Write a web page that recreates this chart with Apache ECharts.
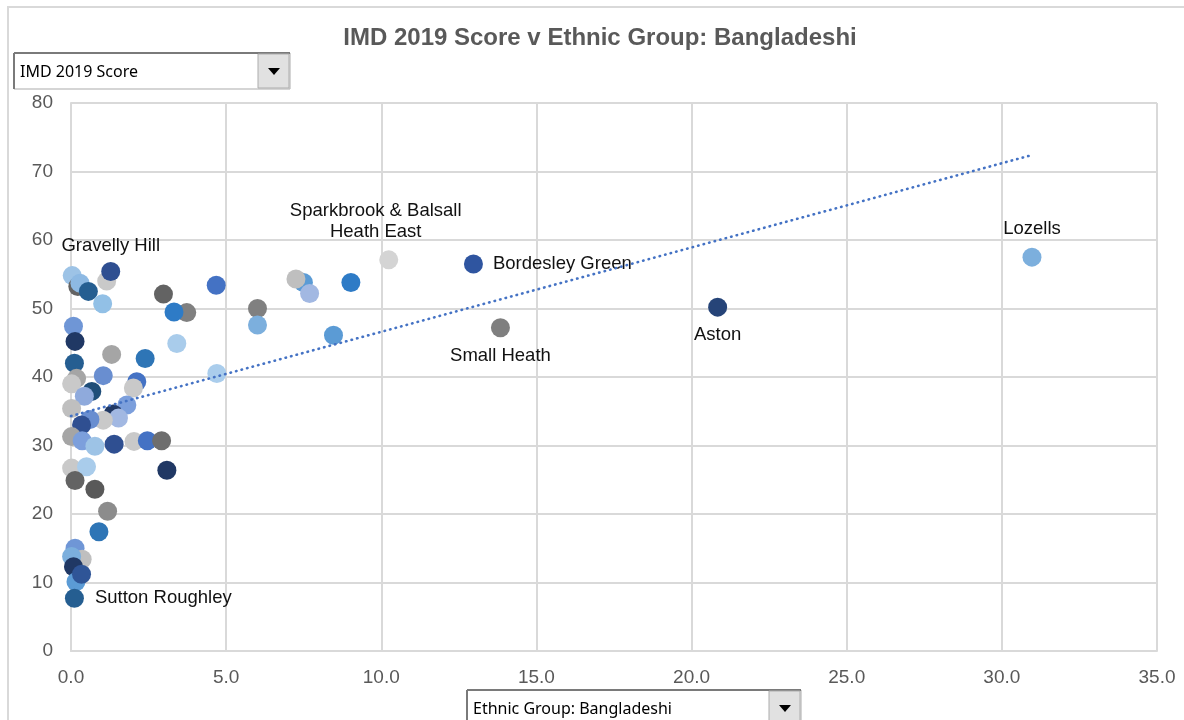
<!DOCTYPE html>
<html><head><meta charset="utf-8">
<script src="https://cdn.jsdelivr.net/npm/echarts@6/dist/echarts.min.js"></script>
<style>html,body{margin:0;padding:0;background:#fff}#c{width:1184px;height:720px}</style>
</head><body><div id="c"></div>
<script>
// ---- data ----
const wardNames = ['', '', '', '', '', 'Gravelly Hill', '', '', '', '', '', '', '', '', '', '', '', '', '', '', '', '', '', '', '', '', '', '', '', '', '', '', '', '', '', '', '', '', '', '', '', '', '', '', '', '', '', '', '', '', '', '', 'Sutton Roughley', '', '', '', '', '', '', '', 'Sparkbrook & Balsall\nHeath East', 'Bordesley Green', 'Small Heath', 'Aston', 'Lozells'];
const bangladeshiPct = [0.04, 0.22, 0.29, 0.56, 1.15, 1.28, 1.02, 2.98, 4.68, 3.73, 3.32, 3.41, 0.08, 0.13, 0.11, 1.31, 2.39, 0.18, 0.02, 1.04, 2.12, 2.01, 4.70, 0.67, 0.43, 0.02, 1.80, 1.36, 1.53, 1.04, 0.61, 0.34, 0.02, 0.36, 0.77, 1.39, 2.03, 2.46, 2.92, 0.02, 0.50, 3.09, 0.13, 0.77, 1.18, 0.90, 0.13, 0.36, 0.02, 0.08, 0.16, 0.34, 0.11, 7.49, 7.25, 7.69, 9.02, 6.01, 6.01, 8.46, 10.24, 12.97, 13.84, 20.84, 30.97];
const imdScore = [54.8, 53.2, 53.7, 52.5, 54.0, 55.4, 50.7, 52.1, 53.4, 49.4, 49.5, 44.9, 47.4, 45.2, 42.0, 43.3, 42.7, 39.8, 39.0, 40.2, 39.3, 38.4, 40.5, 37.9, 37.2, 35.4, 35.9, 34.6, 34.0, 33.7, 33.8, 33.0, 31.3, 30.7, 29.9, 30.2, 30.6, 30.7, 30.7, 26.7, 26.9, 26.4, 24.9, 23.6, 20.4, 17.4, 15.0, 13.4, 13.8, 12.3, 10.1, 11.2, 7.7, 53.8, 54.3, 52.2, 53.8, 50.0, 47.6, 46.1, 57.1, 56.5, 47.2, 50.2, 57.5];
const trendX = [0, 30.97];
const trendY = [34.3, 72.4];
const xTicks = [0, 5, 10, 15, 20, 25, 30, 35];
const yTicks = [0, 10, 20, 30, 40, 50, 60, 70, 80];

// ---- styles ----
const pointColors = ['#9DC3E6', '#636363', '#8DB9E3', '#255E91', '#C9C9C9', '#2F4F91', '#92C0E6', '#636363', '#4472C4', '#808080', '#2E7BC6', '#A9CCEB', '#6F96D6', '#203864', '#255E91', '#A5A5A5', '#2E75B6', '#A5A5A5', '#C9C9C9', '#698ED0', '#4472C4', '#C9C9C9', '#AACDEC', '#1F4E79', '#8FAADC', '#BFBFBF', '#7C9FDC', '#203864', '#A2B8E2', '#C9C9C9', '#698ED0', '#2F4F91', '#A5A5A5', '#7C9FDC', '#9DC3E6', '#2F4F91', '#C9C9C9', '#4472C4', '#6E6E6E', '#C9C9C9', '#A9CCEB', '#203864', '#636363', '#595959', '#8C8C8C', '#2E75B6', '#6F96D6', '#BFBFBF', '#7CAFDD', '#203864', '#5B9BD5', '#2F5597', '#255E91', '#5B9BD5', '#BFBFBF', '#A2B8E2', '#2E7BC6', '#808080', '#7CAFDD', '#5B9BD5', '#D4D4D4', '#2F55A0', '#7F7F7F', '#264478', '#7CAFDD'];
const labelPos = {
  'Gravelly Hill': {position: 'top', distance: 6},
  'Sparkbrook & Balsall\nHeath East': {position: 'top', distance: 8, offset: [-13, 0]},
  'Bordesley Green': {position: 'right', distance: 10},
  'Small Heath': {position: 'bottom', distance: 8},
  'Aston': {position: 'bottom', distance: 8},
  'Lozells': {position: 'top', distance: 8},
  'Sutton Roughley': {position: 'right', distance: 11}
};

const points = bangladeshiPct.map((x, i) => {
  const o = {value: [x, imdScore[i]], itemStyle: {color: pointColors[i], opacity: 1}};
  const n = wardNames[i];
  if (n) {
    o.label = Object.assign({show: true, formatter: n, color: '#111', fontSize: 18.5,
      fontFamily: 'Liberation Sans, Arial, sans-serif', lineHeight: 21, align: 'center'}, labelPos[n]);
    if (labelPos[n].position === 'right') o.label.align = 'left';
  }
  return o;
});

const chart = echarts.init(document.getElementById('c'), null, {renderer: 'canvas'});
const gridCol = '#D9D9D9';
const axisFont = {color: '#595959', fontSize: 19, fontFamily: 'Liberation Sans, Arial, sans-serif'};

function dropdown(x, y, w, h, text, fs) {
  return {
    type: 'group', x: x, y: y, children: [
      {type: 'rect', shape: {x: 0, y: 0, width: w, height: h}, style: {fill: '#fff', stroke: '#ABABAB', lineWidth: 1}},
      {type: 'line', shape: {x1: 0, y1: 0, x2: w, y2: 0}, style: {stroke: '#7A7A7A', lineWidth: 2}},
      {type: 'line', shape: {x1: 0, y1: 0, x2: 0, y2: h}, style: {stroke: '#7A7A7A', lineWidth: 2}},
      {type: 'rect', shape: {x: w - 32, y: 1, width: 31, height: h - 2}, style: {fill: '#E1E1E1', stroke: '#ADADAD', lineWidth: 1}},
      {type: 'polygon', shape: {points: [[w - 22, h / 2 - 3], [w - 10, h / 2 - 3], [w - 16, h / 2 + 4]]}, style: {fill: '#000'}},
      {type: 'text', x: 6, y: h / 2 + 1, style: {text: text, fill: '#000', fontSize: fs, fontFamily: 'Noto Sans, Open Sans, sans-serif', verticalAlign: 'middle'}}
    ]
  };
}

chart.setOption({
  animation: false,
  backgroundColor: '#fff',
  grid: {left: 71, right: 27, top: 103, bottom: 69, containLabel: false},
  xAxis: {
    type: 'value', min: xTicks[0], max: xTicks[xTicks.length - 1], interval: xTicks[1] - xTicks[0],
    axisLine: {show: true, lineStyle: {color: gridCol, width: 2}}, axisTick: {show: false},
    splitLine: {show: true, lineStyle: {color: gridCol, width: 2}},
    axisLabel: Object.assign({margin: 17, formatter: v => v.toFixed(1)}, axisFont)
  },
  yAxis: {
    type: 'value', min: yTicks[0], max: yTicks[yTicks.length - 1], interval: yTicks[1] - yTicks[0],
    axisLine: {show: true, lineStyle: {color: gridCol, width: 2}}, axisTick: {show: false},
    splitLine: {show: true, lineStyle: {color: gridCol, width: 2}},
    axisLabel: Object.assign({margin: 18}, axisFont)
  },
  graphic: [
    {type: 'rect', shape: {x: 8, y: 7, width: 1200, height: 760}, style: {fill: 'none', stroke: '#D9D9D9', lineWidth: 2}, silent: true, z: -10},
    {type: 'text', x: 600, y: 38, style: {text: 'IMD 2019 Score v Ethnic Group: Bangladeshi', fill: '#595959', fontSize: 24, fontWeight: 'bold', fontFamily: 'Liberation Sans, Arial, sans-serif', align: 'center', verticalAlign: 'middle'}},
    dropdown(14, 53, 276, 36, 'IMD 2019 Score', 16),
    dropdown(467, 690, 334, 36, 'Ethnic Group: Bangladeshi', 16)
  ],
  series: [
    {type: 'scatter', symbol: 'circle', symbolSize: 19, data: points, z: 2},
    {type: 'line', data: trendX.map((x, i) => [x, trendY[i]]), symbol: 'none', z: 5,
      lineStyle: {color: '#4472C4', width: 2.6, type: [0.5, 5.2], cap: 'round'}}
  ]
});
</script></body></html>
